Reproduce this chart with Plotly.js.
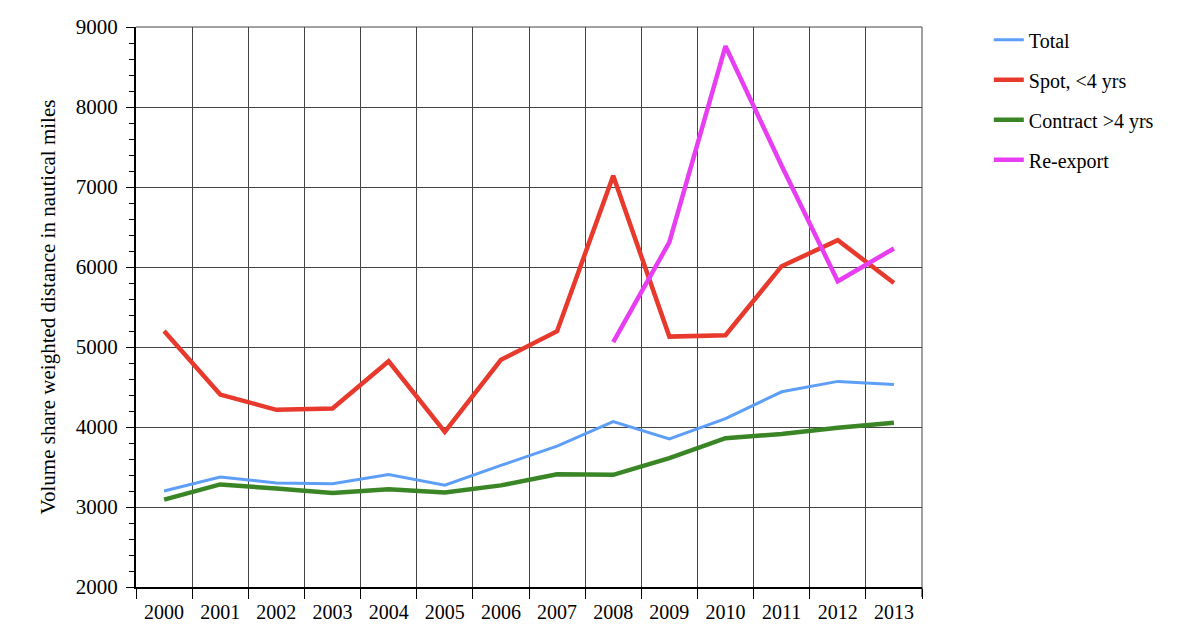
<!DOCTYPE html>
<html>
<head>
<meta charset="utf-8">
<script src="https://cdn.plot.ly/plotly-3.0.1.min.js"></script>
<style>html,body{margin:0;padding:0;background:#fff;}#chart{width:1186px;height:630px;}</style>
</head>
<body>
<div id="chart"></div>
<script>
var years = ["2000","2001","2002","2003","2004","2005","2006","2007","2008","2009","2010","2011","2012","2013"];
var total = [3200,3375,3300,3290,3405,3272,3520,3760,4068,3850,4105,4440,4570,4532];
var spot = [5200,4405,4215,4232,4822,3940,4840,5198,7140,5130,5148,6010,6335,5800];
var contract = [3092,3282,3230,3175,3222,3182,3270,3410,3402,3612,3860,3912,3990,4052];
var reexportYears = ["2008","2009","2010","2011","2012","2013"];
var reexport = [5060,6310,8760,7265,5822,6232];

var serif = "Liberation Serif, DejaVu Serif, serif";
var traces = [
  {x: years, y: total, name: "Total", mode: "lines", line: {color: "#5d9ef7", width: 3}, legendgroup: "a"},
  {x: years, y: spot, name: "Spot, <4 yrs", mode: "lines", line: {color: "#e8392d", width: 4.5}, legendgroup: "b"},
  {x: years, y: contract, name: "Contract >4 yrs", mode: "lines", line: {color: "#3a8526", width: 4.5}, legendgroup: "c"},
  {x: reexportYears, y: reexport, name: "Re-export", mode: "lines", line: {color: "#e83ef1", width: 4.5}, legendgroup: "d"}
];
var layout = {
  width: 1186, height: 630,
  margin: {l: 136, r: 264, t: 27, b: 43},
  paper_bgcolor: "#fff", plot_bgcolor: "#fff",
  font: {family: serif, color: "#000", size: 20},
  showlegend: true,
  legend: {x: 1.085, y: 1.012, xanchor: "left", yanchor: "top", font: {family: serif, size: 20, color: "#000"}, tracegroupgap: 11, bgcolor: "rgba(0,0,0,0)"},
  xaxis: {
    type: "category", categoryorder: "array", categoryarray: years,
    range: [-0.5, 13.5],
    tickson: "boundaries", ticks: "outside", ticklen: 10, tickwidth: 1, tickcolor: "#000",
    ticklabelstandoff: 6,
    showgrid: true, gridcolor: "#444", gridwidth: 1,
    showline: true, linecolor: "#000", linewidth: 2,
    tickfont: {family: serif, size: 20},
    zeroline: false, fixedrange: true
  },
  yaxis: {
    range: [2000, 9000], dtick: 1000, tick0: 2000,
    ticks: "outside", ticklen: 8, tickwidth: 1, tickcolor: "#000",
    ticklabelstandoff: 4,
    minor: {dtick: 200, ticks: "outside", ticklen: 5, tickcolor: "#000", showgrid: false},
    showgrid: true, gridcolor: "#444", gridwidth: 1,
    showline: true, linecolor: "#000", linewidth: 2,
    tickfont: {family: serif, size: 21},
    title: {text: "Volume share weighted distance in nautical miles", font: {family: serif, size: 21}, standoff: 14},
    zeroline: false, fixedrange: true
  },
  shapes: [
    {type: "line", xref: "paper", yref: "paper", x0: 1, x1: 1, y0: 0, y1: 1, line: {color: "#444", width: 1}},
    {type: "line", xref: "paper", yref: "paper", x0: 0, x1: 1, y0: 1, y1: 1, line: {color: "#444", width: 1}},
    {type: "line", xref: "paper", yref: "paper", x0: 1, x1: 1, y0: 0, y1: -0.018, line: {color: "#000", width: 1}}
  ]
};
Plotly.newPlot("chart", traces, layout, {displayModeBar: false, staticPlot: true});
</script>
</body>
</html>
